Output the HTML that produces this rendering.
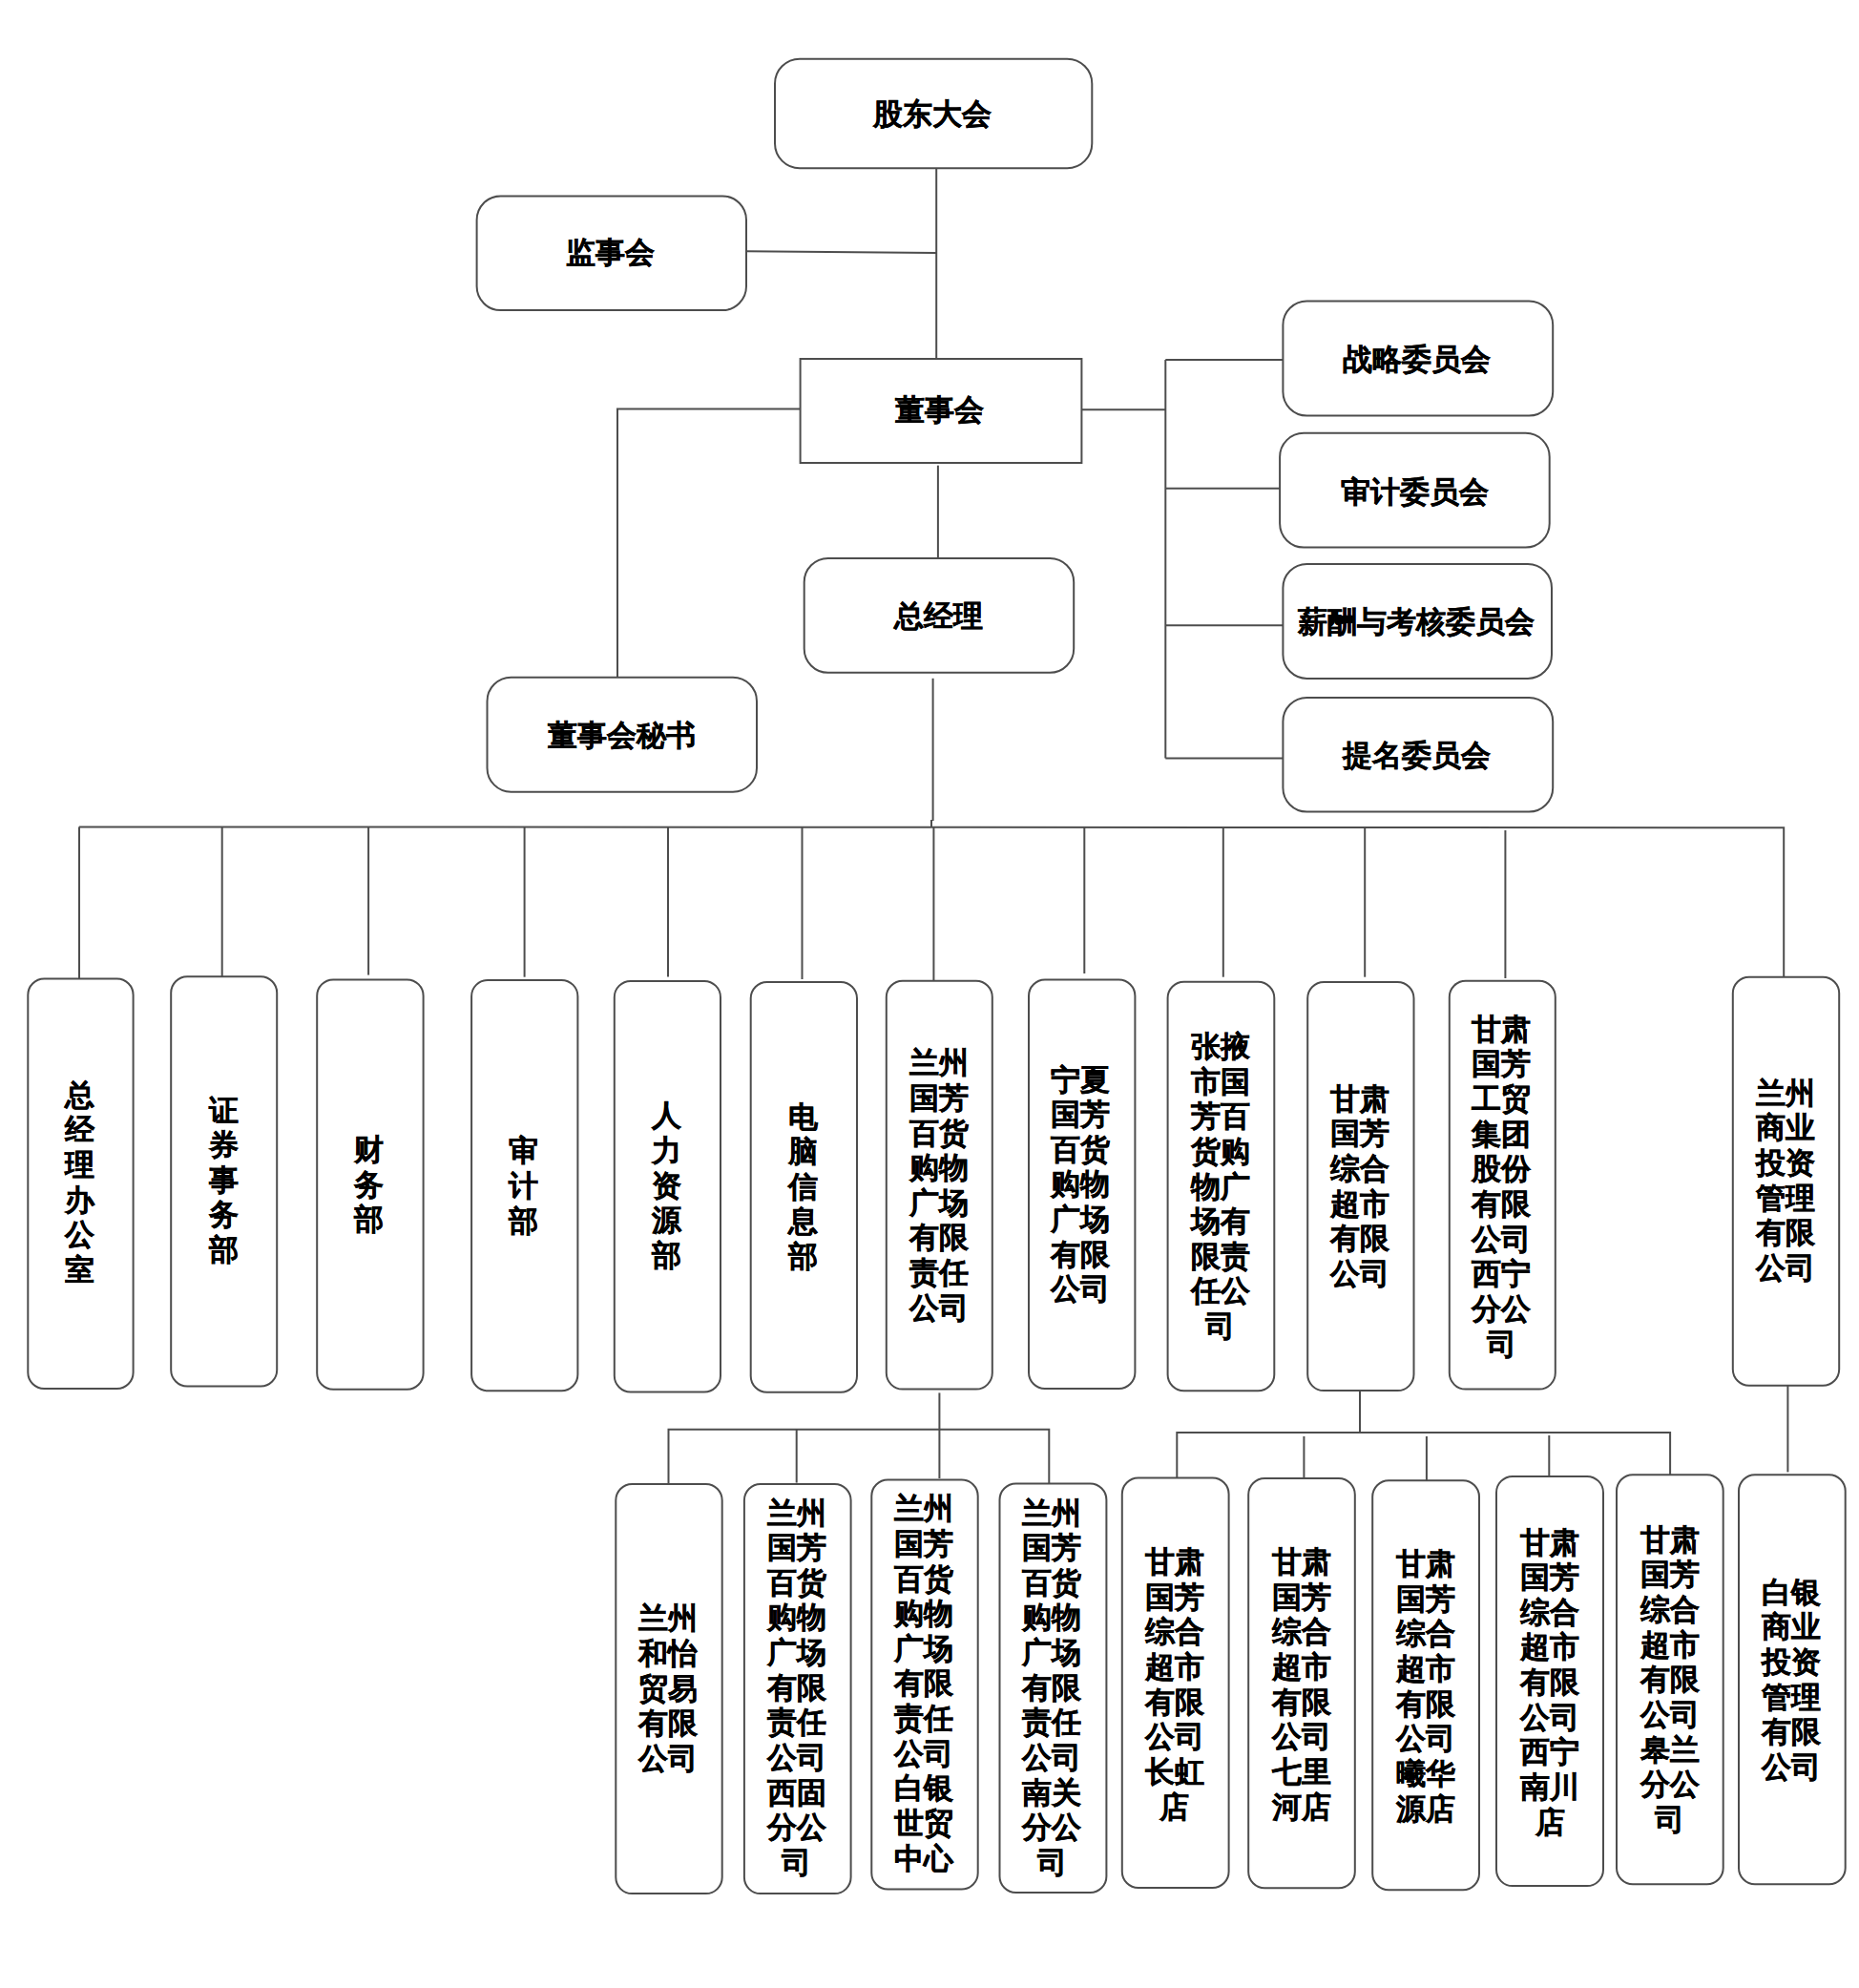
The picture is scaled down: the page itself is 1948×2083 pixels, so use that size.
<!DOCTYPE html>
<html><head><meta charset="utf-8"><title>org chart</title>
<style>
html,body{margin:0;padding:0;background:#fff;}
body{width:1948px;height:2083px;position:relative;overflow:hidden;}
svg{position:absolute;left:0;top:0;}
svg rect, svg polyline{fill:none;stroke:#4d4d4d;stroke-width:2;}
.t{position:absolute;font-family:"Liberation Sans",sans-serif;font-weight:bold;font-size:31.4px;line-height:36.65px;color:#000;white-space:nowrap;text-align:center;-webkit-text-stroke:0.35px #000;transform:translate(-50%,calc(-50% + 1px));}
</style></head><body>
<svg width="1948" height="2083" viewBox="0 0 1948 2083">
<rect x="812.0" y="61.7" width="332.3" height="114.5" rx="26" ry="26"/>
<rect x="499.6" y="205.4" width="282.4" height="119.7" rx="25" ry="25"/>
<rect x="838.6" y="376.0" width="294.8" height="109.0" rx="0" ry="0"/>
<rect x="1344.4" y="315.4" width="282.8" height="120.1" rx="25" ry="25"/>
<rect x="1341.1" y="453.8" width="282.6" height="119.7" rx="25" ry="25"/>
<rect x="1344.4" y="591.0" width="281.6" height="119.9" rx="25" ry="25"/>
<rect x="1344.4" y="731.0" width="282.8" height="119.5" rx="25" ry="25"/>
<rect x="842.7" y="584.9" width="282.5" height="119.9" rx="25" ry="25"/>
<rect x="510.5" y="709.7" width="282.5" height="120.0" rx="25" ry="25"/>
<rect x="29.3" y="1025.6" width="110.3" height="429.4" rx="17" ry="17"/>
<rect x="179.2" y="1023.2" width="111.0" height="429.2" rx="17" ry="17"/>
<rect x="332.2" y="1026.4" width="111.4" height="429.4" rx="17" ry="17"/>
<rect x="494.1" y="1026.9" width="111.3" height="430.3" rx="17" ry="17"/>
<rect x="643.8" y="1027.9" width="111.2" height="430.6" rx="17" ry="17"/>
<rect x="786.7" y="1029.0" width="111.3" height="429.7" rx="17" ry="17"/>
<rect x="928.8" y="1027.7" width="111.0" height="427.9" rx="17" ry="17"/>
<rect x="1078.0" y="1026.6" width="111.4" height="428.4" rx="17" ry="17"/>
<rect x="1223.6" y="1028.7" width="111.7" height="428.5" rx="17" ry="17"/>
<rect x="1370.2" y="1029.0" width="111.3" height="428.1" rx="17" ry="17"/>
<rect x="1518.8" y="1027.7" width="111.0" height="427.9" rx="17" ry="17"/>
<rect x="1815.8" y="1023.7" width="111.4" height="428.1" rx="17" ry="17"/>
<rect x="645.3" y="1555.1" width="111.4" height="429.0" rx="17" ry="17"/>
<rect x="779.9" y="1555.0" width="111.7" height="429.1" rx="17" ry="17"/>
<rect x="913.3" y="1550.5" width="111.4" height="429.0" rx="17" ry="17"/>
<rect x="1047.5" y="1554.5" width="111.9" height="428.5" rx="17" ry="17"/>
<rect x="1175.8" y="1548.6" width="111.8" height="429.3" rx="17" ry="17"/>
<rect x="1308.2" y="1549.0" width="111.6" height="429.2" rx="17" ry="17"/>
<rect x="1438.2" y="1551.3" width="111.8" height="429.0" rx="17" ry="17"/>
<rect x="1568.0" y="1546.9" width="112.0" height="429.2" rx="17" ry="17"/>
<rect x="1694.0" y="1545.2" width="111.7" height="429.1" rx="17" ry="17"/>
<rect x="1822.0" y="1545.2" width="111.7" height="429.1" rx="17" ry="17"/>
<polyline points="981.2,176.2 981.2,376.0"/>
<polyline points="782.0,263.3 981.2,265.0"/>
<polyline points="838.6,428.5 647.0,428.5 647.0,709.7"/>
<polyline points="1133.4,429.3 1221.3,429.3"/>
<polyline points="1221.3,377.0 1221.3,794.6"/>
<polyline points="1221.3,377.0 1344.4,377.0"/>
<polyline points="1221.3,511.8 1341.1,511.8"/>
<polyline points="1221.3,655.3 1344.4,655.3"/>
<polyline points="1221.3,794.6 1344.4,794.6"/>
<polyline points="982.9,487.7 982.9,584.9"/>
<polyline points="977.6,710.8 977.6,860.0"/>
<polyline points="976.0,859.0 976.0,867.0"/>
<polyline points="82.8,866.4 1869.2,867.2 1869.2,1023.7"/>
<polyline points="83.0,866.4 83.0,1025.6"/>
<polyline points="232.7,866.4 232.7,1023.2"/>
<polyline points="386.1,866.4 386.1,1021.6"/>
<polyline points="549.6,866.4 549.6,1023.7"/>
<polyline points="700.0,866.4 700.0,1023.5"/>
<polyline points="840.5,866.4 840.5,1026.0"/>
<polyline points="978.4,866.4 978.4,1027.7"/>
<polyline points="1136.3,866.4 1136.3,1020.0"/>
<polyline points="1281.8,866.4 1281.8,1023.7"/>
<polyline points="1430.2,866.8 1430.2,1023.7"/>
<polyline points="1577.4,870.0 1577.4,1025.0"/>
<polyline points="984.4,1459.4 984.4,1549.0"/>
<polyline points="700.5,1555.1 700.5,1497.7 1099.3,1497.7 1099.3,1554.5"/>
<polyline points="834.7,1497.7 834.7,1553.6"/>
<polyline points="1425.0,1457.1 1425.0,1500.9"/>
<polyline points="1233.3,1548.6 1233.3,1500.9 1750.1,1500.9 1750.1,1545.2"/>
<polyline points="1366.4,1505.0 1366.4,1549.0"/>
<polyline points="1494.9,1505.0 1494.9,1551.3"/>
<polyline points="1623.3,1504.0 1623.3,1546.9"/>
<polyline points="1873.4,1451.8 1873.4,1542.4"/>
</svg>
<div class="t" style="left:977.3px;top:118.8px">股东大会</div>
<div class="t" style="left:639.8px;top:264.1px">监事会</div>
<div class="t" style="left:984.2px;top:429.2px">董事会</div>
<div class="t" style="left:1484.6px;top:375.9px">战略委员会</div>
<div class="t" style="left:1482.0px;top:515.0px">审计委员会</div>
<div class="t" style="left:1484.4px;top:651.0px">薪酬与考核委员会</div>
<div class="t" style="left:1484.5px;top:790.9px">提名委员会</div>
<div class="t" style="left:983.4px;top:645.2px">总经理</div>
<div class="t" style="left:651.2px;top:769.9px">董事会秘书</div>
<div class="t v" style="left:83.3px;top:1238.8px">总<br>经<br>理<br>办<br>公<br>室</div>
<div class="t v" style="left:234.0px;top:1236.5px">证<br>券<br>事<br>务<br>部</div>
<div class="t v" style="left:386.5px;top:1240.9px">财<br>务<br>部</div>
<div class="t v" style="left:548.7px;top:1242.4px">审<br>计<br>部</div>
<div class="t v" style="left:698.0px;top:1242.3px">人<br>力<br>资<br>源<br>部</div>
<div class="t v" style="left:841.7px;top:1243.5px">电<br>脑<br>信<br>息<br>部</div>
<div class="t v" style="left:984.0px;top:1242.2px">兰州<br>国芳<br>百货<br>购物<br>广场<br>有限<br>责任<br>公司</div>
<div class="t v" style="left:1132.2px;top:1240.5px">宁夏<br>国芳<br>百货<br>购物<br>广场<br>有限<br>公司</div>
<div class="t v" style="left:1278.9px;top:1242.9px">张掖<br>市国<br>芳百<br>货购<br>物广<br>场有<br>限责<br>任公<br>司</div>
<div class="t v" style="left:1425.2px;top:1242.8px">甘肃<br>国芳<br>综合<br>超市<br>有限<br>公司</div>
<div class="t v" style="left:1573.3px;top:1242.8px">甘肃<br>国芳<br>工贸<br>集团<br>股份<br>有限<br>公司<br>西宁<br>分公<br>司</div>
<div class="t v" style="left:1871.0px;top:1236.6px">兰州<br>商业<br>投资<br>管理<br>有限<br>公司</div>
<div class="t v" style="left:699.7px;top:1769.3px">兰州<br>和怡<br>贸易<br>有限<br>公司</div>
<div class="t v" style="left:834.8px;top:1768.5px">兰州<br>国芳<br>百货<br>购物<br>广场<br>有限<br>责任<br>公司<br>西固<br>分公<br>司</div>
<div class="t v" style="left:968.4px;top:1764.2px">兰州<br>国芳<br>百货<br>购物<br>广场<br>有限<br>责任<br>公司<br>白银<br>世贸<br>中心</div>
<div class="t v" style="left:1102.0px;top:1768.5px">兰州<br>国芳<br>百货<br>购物<br>广场<br>有限<br>责任<br>公司<br>南关<br>分公<br>司</div>
<div class="t v" style="left:1230.7px;top:1765.0px">甘肃<br>国芳<br>综合<br>超市<br>有限<br>公司<br>长虹<br>店</div>
<div class="t v" style="left:1363.6px;top:1765.0px">甘肃<br>国芳<br>综合<br>超市<br>有限<br>公司<br>七里<br>河店</div>
<div class="t v" style="left:1494.0px;top:1767.1px">甘肃<br>国芳<br>综合<br>超市<br>有限<br>公司<br>曦华<br>源店</div>
<div class="t v" style="left:1624.0px;top:1762.5px">甘肃<br>国芳<br>综合<br>超市<br>有限<br>公司<br>西宁<br>南川<br>店</div>
<div class="t v" style="left:1749.8px;top:1759.8px">甘肃<br>国芳<br>综合<br>超市<br>有限<br>公司<br>皋兰<br>分公<br>司</div>
<div class="t v" style="left:1876.7px;top:1759.8px">白银<br>商业<br>投资<br>管理<br>有限<br>公司</div>
</body></html>
